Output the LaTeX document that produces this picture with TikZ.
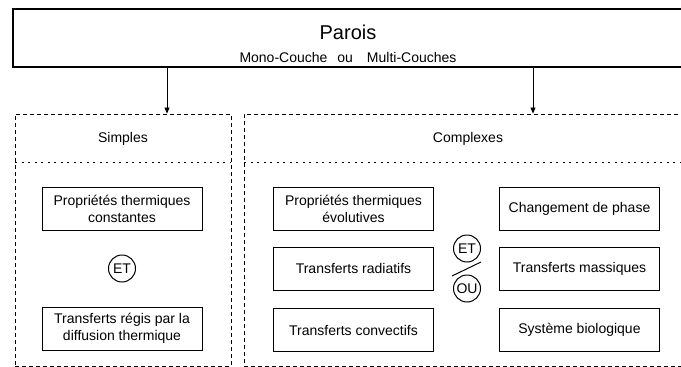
\documentclass[tikz,border=0pt]{standalone}
\usepackage{fontspec}
\setmainfont{Liberation Sans}
\usetikzlibrary{arrows.meta}

\tikzset{
  texte/.style={font=\fontsize{14}{17}\selectfont, align=center, inner sep=0pt},
  titre/.style={font=\fontsize{20}{24}\selectfont, inner sep=0pt},
  entete/.style={draw, line width=1.4pt, minimum width=670pt, minimum height=58pt, inner sep=0pt},
  cadre/.style={draw, line width=0.9pt, dash pattern=on 4pt off 3pt, inner sep=0pt},
  separation/.style={line width=0.9pt, dash pattern=on 2pt off 4.5pt},
  boite/.style={texte, draw, line width=1pt, minimum width=160pt, minimum height=43pt},
  lien/.style={texte, draw, circle, line width=1pt, minimum size=27pt, inner sep=1pt},
  fleche/.style={line width=0.8pt, -{Triangle[length=6pt,width=5pt]}}
}

\begin{document}
\begin{tikzpicture}[x=1pt, y=-1pt]
        \useasboundingbox (0,0) rectangle (681,367);

        % Parois (en haut)
        \node[entete] (parois) at (348,38) {};
        \node[titre] (nom) at (348,32) {Parois};
        \node[texte] (couches) at (348,57) {Mono-Couche\hspace{10pt}ou\hspace{14pt}Multi-Couches};

        % Cadres pointilles
        \node[cadre, minimum width=216pt, minimum height=252pt] (gauche) at (123,240) {};
        \node[cadre, minimum width=448pt, minimum height=252pt] (droite) at (468,240) {};
        \draw[separation] (15,162) -- (231,162);
        \draw[separation] (244,162) -- (692,162);
        \node[texte] (simples) at (123,139) {Simples};
        \node[texte] (complexes) at (468,139) {Complexes};

        % Fleches
        \coordinate (x1) at (167,0);
        \coordinate (x2) at (533,0);
        \draw[fleche] (parois.south -| x1) -- (gauche.north -| x1);
        \draw[fleche] (parois.south -| x2) -- (droite.north -| x2);

        % Simples
        \node[boite] (constantes) at (122,208.5) {Propriétés thermiques\\constantes};
        \node[lien] (et1) at (122,268.5) {ET};
        \node[boite] (diffusion) at (122,328.5) {Transferts régis par la\\diffusion thermique};

        % Complexes, colonne 1
        \node[boite] (evolutives) at (353.5,209) {Propriétés thermiques\\évolutives};
        \node[boite] (radiatifs) at (353.5,268.5) {Transferts radiatifs};
        \node[boite] (convectifs) at (353.5,330) {Transferts convectifs};

        % Complexes, colonne 2
        \node[boite] (phase) at (579.5,209) {Changement de phase};
        \node[boite] (massiques) at (579.5,268.5) {Transferts massiques};
        \node[boite] (biologique) at (579.5,330) {Système biologique};

        % ET / OU
        \node[lien] (et2) at (467,248.5) {ET};
        \node[lien] (ou) at (467,288.5) {OU};
        \coordinate (b1) at (452,276);
        \coordinate (b2) at (481,262);
        \draw[line width=1pt] (b1) -- (b2);
\end{tikzpicture}
\end{document}
